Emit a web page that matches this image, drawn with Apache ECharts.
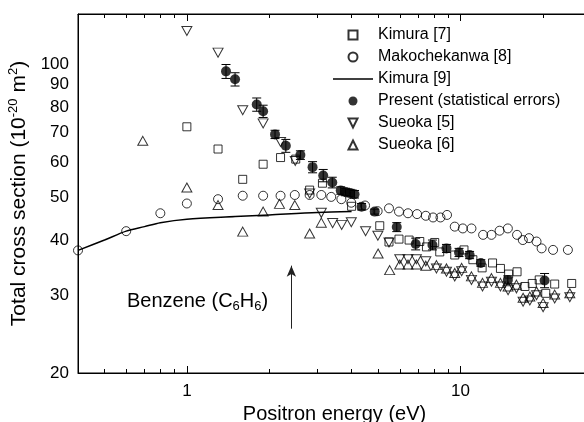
<!DOCTYPE html>
<html><head><meta charset="utf-8">
<script src="https://cdn.jsdelivr.net/npm/echarts@6/dist/echarts.min.js"></script>
<style>html,body{margin:0;padding:0;background:#fff}#c{width:584px;height:422px}</style>
</head><body><div id="c"></div>
<script>
// ---- data (energy eV, cross section 1e-20 m^2) ----
const kimura7 = [[1.0,72.2],[1.3,64.3],[1.6,54.9],[1.9,59.4],[2.2,61.5],[2.5,61.0],[2.81,51.9],[3.13,53.8],[4.0,47.7],[5.07,43.1],[5.48,39.6],[5.96,40.2],[6.49,40.0],[7.1,39.7],[7.51,38.6],[8.05,39.5],[8.4,37.6],[9.53,37.0],[10.3,38.0],[11.1,36.1],[12.0,34.6],[13.1,35.5],[14.0,34.5],[15.0,33.5],[16.1,33.9],[17.2,31.4],[18.3,31.9],[19.4,32.5],[20.5,30.3],[22.1,31.8],[25.5,31.9]];
const makochekanwa8 = [[0.4,37.9],[0.6,41.9],[0.8,46.0],[1.0,48.4],[1.3,49.5],[1.6,50.4],[1.9,50.4],[2.2,50.4],[2.48,50.6],[2.81,50.6],[3.1,50.6],[3.37,50.1],[3.67,49.5],[3.99,48.6],[4.48,47.9],[4.98,46.5],[5.48,47.2],[5.96,46.4],[6.43,46.0],[6.94,45.8],[7.47,45.4],[7.94,45.0],[8.45,45.0],[8.93,45.6],[9.53,42.9],[10.2,42.5],[10.97,42.5],[12.1,41.1],[12.98,41.1],[13.9,42.0],[14.9,42.5],[16.1,41.1],[16.9,40.0],[17.8,40.4],[18.97,39.7],[19.8,38.3],[21.8,38.0],[24.7,38.0]];
const kimura9 = [[0.4,37.9],[0.5,40.0],[0.6,41.9],[0.7,42.9],[0.8,43.8],[1.0,44.6],[1.5,45.2],[2.0,45.6],[3.0,46.2],[4.0,46.4]];
const present = [[1.39,96.4],[1.5,92.5],[1.8,81.1],[1.9,78.3],[2.1,69.4],[2.3,65.4],[2.6,62.3],[2.88,58.5],[3.15,56.0],[3.4,54.0],[3.65,51.8],[3.8,51.4],[3.95,51.1],[4.1,50.8],[4.35,47.6],[4.86,46.4],[5.85,42.8],[6.86,39.2],[7.9,39.0],[8.89,38.3],[9.88,37.5],[10.8,37.0],[11.87,35.5],[14.9,32.5],[20.3,32.4]];
const presentErr = [3.5,3.2,2.8,2.5,1.5,2.2,1.4,1.7,1.8,1.5,1.0,1.0,1.0,1.0,0.8,0.6,1.0,1.2,1.0,0.8,0.8,0.7,0.6,0.7,1.2];
const sueoka5 = [[1.0,119],[1.3,106.3],[1.6,78.7],[1.9,73.5],[2.2,66.7],[2.49,60.4],[2.81,51.0],[3.1,46.1],[3.41,43.7],[3.68,43.3],[3.99,43.9],[4.5,41.9],[4.99,40.9],[5.48,39.5],[6.0,36.2],[6.43,36.2],[6.9,36.2],[7.47,35.8],[8.17,34.5],[8.89,33.9],[9.53,33.1],[10.1,34.0],[10.97,32.5],[12.04,31.4],[12.98,32.2],[14.0,31.4],[14.93,30.8],[16.02,31.1],[16.94,29.0],[17.93,29.2],[18.97,30.0],[20.05,28.2],[22.1,29.5],[25.1,29.7]];
const sueoka6 = [[0.69,67.1],[1.0,52.6],[1.3,48.0],[1.6,41.8],[1.9,46.4],[2.18,48.3],[2.48,48.0],[2.81,41.4],[3.1,43.8],[5.0,37.3],[5.51,34.2],[6.0,35.2],[6.43,35.2],[6.9,35.2],[7.47,35.0],[8.17,35.1],[8.89,34.5],[9.53,33.7],[10.1,34.6],[10.97,33.1],[12.04,32.0],[12.98,32.8],[14.0,32.0],[14.93,31.4],[16.02,31.7],[16.94,29.6],[17.93,29.8],[18.97,30.6],[20.05,28.8],[22.1,30.1],[25.1,30.3]];
const arrowLine = [[2.41,25.2],[2.41,35.0]];
const xMajorTicks = [1,10];
const xMinorTicks = [0.5,0.6,0.7,0.8,0.9,2,3,4,5,6,7,8,9,20,30];
const yTickLabels = [20,30,40,50,60,70,80,90,100];
const legendNames = ['Kimura [7]','Makochekanwa [8]','Kimura [9]','Present (statistical errors)','Sueoka [5]','Sueoka [6]'];

const FONT = 'Liberation Sans, Arial, sans-serif';
const DOWN_TRI = 'path://M0,0L2,0L1,2Z';
const UP_TRI = 'path://M1,0L2,2L0,2Z';
const SQUARE = 'path://M0,0L2,0L2,2L0,2Z';
const LINE_ICON = 'path://M0,0L40,0L40,1.6L0,1.6Z';
const hollow = {color:'rgba(255,255,255,0)', borderColor:'#000', borderWidth:1};
const errData = present.map((p,i)=>[p[0],p[1],presentErr[i]]);

function xAx(pos, ticks, len, showLine, labels, name){
  return {type:'log', min:0.4, max:30, position:pos, gridIndex:0,
    axisLine:{show:showLine, onZero:false, lineStyle:{color:'#000', width:1}},
    axisTick:{show:true, inside:true, length:len, customValues:ticks, lineStyle:{color:'#000', width:1}},
    axisLabel:{show:!!labels, customValues:labels||undefined, color:'#000', fontSize:17, fontFamily:FONT, margin:10},
    splitLine:{show:false}, minorTick:{show:false},
    name:name||'', nameLocation:'middle', nameGap:29,
    nameTextStyle:{color:'#000', fontSize:20, fontFamily:FONT}};
}

const chart = echarts.init(document.getElementById('c'), null, {renderer:'canvas'});
chart.setOption({
  animation:false,
  backgroundColor:'#fff',
  grid:{left:78, top:14, bottom:49, right:-7, containLabel:false, outerBoundsMode:'none',
    show:true, borderColor:'#000', borderWidth:1, backgroundColor:'rgba(0,0,0,0)'},
  xAxis:[
    xAx('bottom', xMajorTicks, 7, true, xMajorTicks, 'Positron energy (eV)'),
    xAx('bottom', xMinorTicks, 4, false, null),
    xAx('top', xMajorTicks, 7, true, null),
    xAx('top', xMinorTicks, 4, false, null)
  ],
  yAxis:[{type:'log', min:20, max:130, position:'left',
    axisLine:{show:true, onZero:false, lineStyle:{color:'#000', width:1}},
    axisTick:{show:false},
    axisLabel:{customValues:yTickLabels, color:'#000', fontSize:17, fontFamily:FONT, margin:9},
    splitLine:{show:false}, minorTick:{show:false},
    name:'{a|Total cross section (10}{s|-20}{a| m}{s|2}{a|)}', nameLocation:'middle', nameGap:35,
    nameTextStyle:{color:'#000', fontFamily:FONT, fontSize:21,
      rich:{a:{fontSize:21, fontFamily:FONT, color:'#000', lineHeight:24},
            s:{fontSize:13, fontFamily:FONT, color:'#000', verticalAlign:'top', lineHeight:24}}}}],
  legend:{orient:'vertical', left:328, top:22, itemWidth:40, itemHeight:9, itemGap:6,
    selectedMode:false, symbolKeepAspect:true, textStyle:{color:'#000', fontSize:16, fontFamily:FONT},
    data:[
      {name:legendNames[0], icon:SQUARE}, {name:legendNames[1], icon:'circle'}, {name:legendNames[2], icon:LINE_ICON},
      {name:legendNames[3], icon:'circle'}, {name:legendNames[4], icon:DOWN_TRI}, {name:legendNames[5], icon:UP_TRI}
    ]},
  graphic:[{type:'text', left:127, top:291, z:100,
    style:{text:'{a|Benzene (C}{b|6}{a|H}{b|6}{a|)}', fill:'#000',
      rich:{a:{fontSize:20, fontFamily:FONT, fill:'#000', lineHeight:23},
            b:{fontSize:13, fontFamily:FONT, fill:'#000', verticalAlign:'bottom', lineHeight:23}}}}],
  series:[
    {name:legendNames[2], type:'line', data:kimura9, smooth:0.3, symbol:'none', showSymbol:false,
      lineStyle:{color:'#000', width:1.5}, itemStyle:{color:'#000'}, z:2,
      markLine:{silent:true, symbol:['none','arrow'], symbolSize:[7,11], label:{show:false},
        lineStyle:{color:'#222', width:1, type:'solid'},
        data:[[{coord:arrowLine[0]},{coord:arrowLine[1]}]]}},
    {name:legendNames[1], type:'scatter', data:makochekanwa8, symbol:'circle', symbolSize:9, itemStyle:hollow, z:3},
    {name:legendNames[0], type:'scatter', data:kimura7, symbol:'rect', symbolSize:8, itemStyle:hollow, z:3},
    {name:legendNames[4], type:'scatter', data:sueoka5, symbol:DOWN_TRI, symbolSize:[10,9], itemStyle:hollow, z:3},
    {name:legendNames[5], type:'scatter', data:sueoka6, symbol:'triangle', symbolSize:[10,9], itemStyle:hollow, z:3},
    {name:'err', type:'custom', data:errData, encode:{x:0,y:1}, z:4,
      renderItem:function(params, api){
        const x=api.value(0), y=api.value(1), e=api.value(2);
        const t=api.coord([x,y+e]), b=api.coord([x,y-e]); const hw=4.5;
        const st={stroke:'#000', lineWidth:1};
        return {type:'group', children:[
          {type:'line', shape:{x1:t[0],y1:t[1],x2:b[0],y2:b[1]}, style:st},
          {type:'line', shape:{x1:t[0]-hw,y1:t[1],x2:t[0]+hw,y2:t[1]}, style:st},
          {type:'line', shape:{x1:b[0]-hw,y1:b[1],x2:b[0]+hw,y2:b[1]}, style:st}]};
      }},
    {name:legendNames[3], type:'scatter', data:present, symbol:'circle', symbolSize:10,
      itemStyle:{color:'#000', borderColor:'#000', borderWidth:0}, z:5}
  ]
});
</script></body></html>
